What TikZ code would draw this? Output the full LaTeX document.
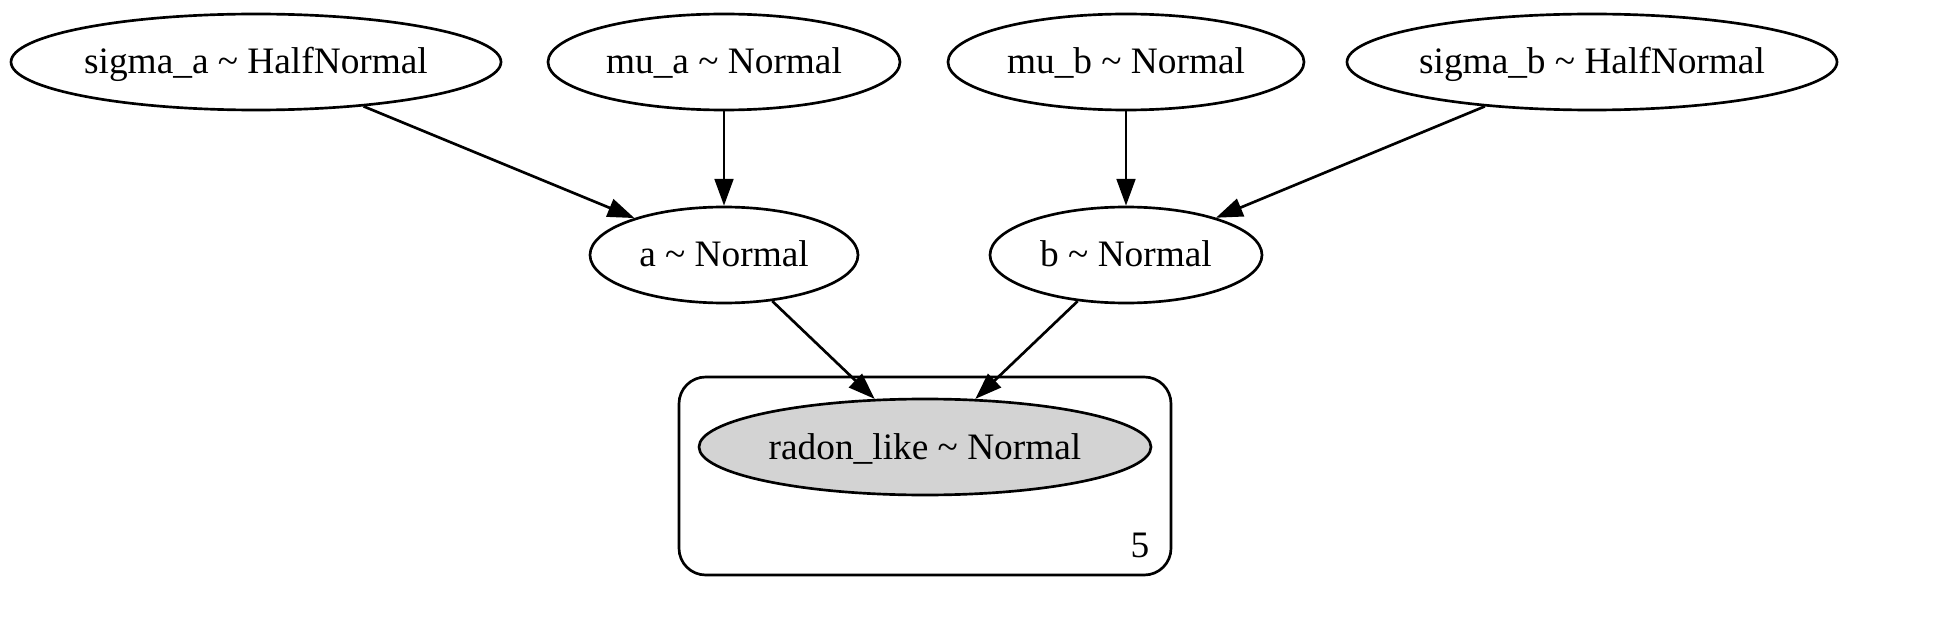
\documentclass[tikz,border=0pt]{standalone}
\usepackage{fontspec}
\setmainfont{Liberation Serif}
\usetikzlibrary{shapes.geometric,arrows.meta}

\begin{document}
\begin{tikzpicture}[x=0.375pt, y=-0.375pt,
        rv/.style={draw, ellipse, line width=1pt, inner sep=0pt, minimum height=36pt,
            text height=10pt, text depth=1pt, font=\fontsize{14}{16}\selectfont},
        edge/.style={-{Triangle[length=10pt,width=7pt]}, line width=1pt}]
        \useasboundingbox (0,0) rectangle (1942,620);
        % plate
        \draw[line width=1pt, rounded corners=10pt] (679,377) rectangle (1171,575);
        \node[font=\fontsize{14}{16}\selectfont, inner sep=0pt] (platen) at (1140,545) {5};
        % random variables
        \node[rv, minimum width=183.75pt] (sigmaa) at (256,62) {sigma\_a \textasciitilde\ HalfNormal};
        \node[rv, minimum width=132pt] (mua) at (724,62) {mu\_a \textasciitilde\ Normal};
        \node[rv, minimum width=133.5pt] (mub) at (1126,62) {mu\_b \textasciitilde\ Normal};
        \node[rv, minimum width=183.75pt] (sigmab) at (1592,62) {sigma\_b \textasciitilde\ HalfNormal};
        \node[rv, minimum width=100.5pt] (a) at (724,255) {a \textasciitilde\ Normal};
        \node[rv, minimum width=102pt] (b) at (1126,255) {b \textasciitilde\ Normal};
        \node[rv, minimum width=169.5pt, fill={rgb,255:red,211;green,211;blue,211}] (radon) at (925,447) {radon\_like \textasciitilde\ Normal};
        % edges
        \draw[edge] (sigmaa) -- (a);
        \draw[edge] (mua) -- (a);
        \draw[edge] (mub) -- (b);
        \draw[edge] (sigmab) -- (b);
        \draw[edge] (a) -- (radon);
        \draw[edge] (b) -- (radon);
    \end{tikzpicture}
\end{document}
